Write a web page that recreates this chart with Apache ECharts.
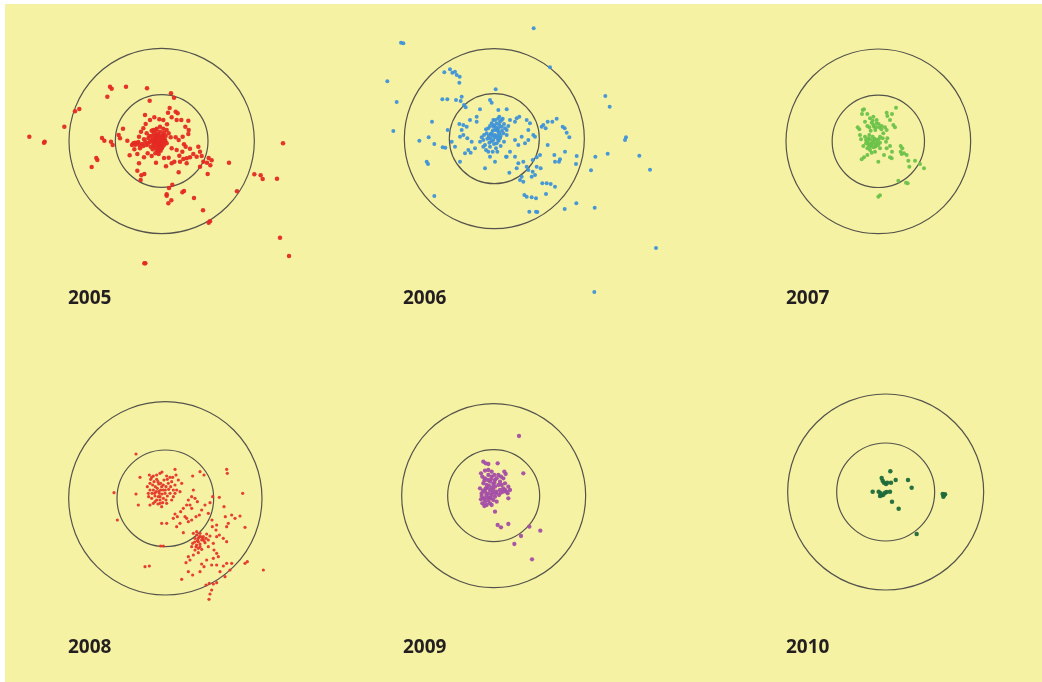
<!DOCTYPE html>
<html>
<head>
<meta charset="utf-8">
<script src="https://cdn.jsdelivr.net/npm/echarts@6/dist/echarts.min.js"></script>
<style>
  html, body { margin: 0; padding: 0; background: #fff; }
  #chart { width: 1042px; height: 682px; }
</style>
</head>
<body>
<div id="chart"></div>
<script>
// shot positions on each target sheet, in sheet units (x to the right, y downwards)
var years = ['2005', '2006', '2007', '2008', '2009', '2010'];

var shots2005 = [
  [28,320],[72,338],[74,335],[133,290],[165,244],[178,237],[215,411],[229,384],[232,390],[246,324],
  [253,332],[262,200],[270,170],[275,176],[318,170],[381,175],[389,212],[453,190],[462,203],[273,335],
  [278,345],[296,315],[300,325],[309,296],[789,340],[771,446],[703,433],[722,436],[728,447],[627,398],
  [651,484],[549,541],[566,578],[570,574],[522,504],[487,487],[492,483],[440,497],[445,520],[440,493],
  [454,511],[457,464],[447,474],[364,436],[362,450],[373,432],[352,422],[780,623],[807,678],[376,700],
  [373,700],[563,432],[540,410],[571,406],[575,391],[566,384],[561,398],[476,427],[408,398],
  [444,248],[449,234],[467,245],[473,250],[455,262],[470,270],[484,270],[505,272],[496,290],[506,300],
  [505,312],[488,320],[467,322],[476,330],[492,343],[497,350],[510,356],[478,377],[490,387],[500,385],
  [510,382],[480,395],[463,395],[446,383],[432,384],[455,400],[438,409],[427,352],[395,378],[383,370],
  [372,382],[357,400],[352,372],[329,376],[343,358],[336,345],[322,332],[340,340],[345,338],[357,320],
  [363,305],[370,295],[377,282],[375,255],[390,270],[403,262],[418,268],[430,270],[441,283],[420,290],
  [408,300],[395,302],[380,310],[385,325],[380,345],[360,355],[370,348],[535,350],[540,365],[545,378],
  [530,380],[520,372],[550,395],[500,400],[487,365],[470,360],[455,355],
  [410,320],[415,315],[420,325],[425,330],[405,335],[412,345],[418,350],[430,320],[428,340],[400,345],
  [398,328],[435,330],[420,305],[410,360],[422,362],[440,340],[390,335],[402,310],[432,308],[425,355],
  [415,335],[408,328],[422,340],[413,352],[428,315],[403,352],[395,318],[437,318],[350,340],[358,345],
  [405,318],[412,312],[418,318],[424,322],[430,326],[436,334],[426,345],[418,342],[410,338],[402,340],
  [396,332],[406,326],[414,326],[420,332],[427,336],[432,345],[420,356],[414,365],[406,370],[416,372],
  [398,358],[392,350],[384,340],[376,336],[366,342],[355,336],[346,344],[372,328],[440,300],[446,310],
  [452,322],[388,318],[400,300],[410,296],[430,296]
];

var shots2006 = [
  [461,25],[63,68],[70,70],[22,184],[50,246],[40,333],[193,157],[210,148],[217,158],[225,155],
  [230,165],[239,170],[238,188],[510,142],[347,208],[676,228],[689,260],[738,352],[735,360],[778,407],
  [810,449],[683,401],[646,410],[633,451],[644,563],[589,550],[554,567],[828,684],[643,816],[163,528],
  [118,362],[146,352],[163,372],[156,305],[140,425],[144,432],[188,382],[196,383],[203,330],[187,238],
  [202,238],[228,240],[245,230],[242,243],[252,255],[257,262],[448,575],[468,575],[472,576],[433,525],
  [440,530],[455,532],[468,535],[498,522],[500,490],[512,492],[525,500],[487,490],[590,408],[588,432],
  [555,395],[523,405],[525,425],[537,425],[540,418],[568,352],[560,338],[554,325],[548,320],[530,296],
  [517,305],[503,305],[490,315],[485,320],[497,325],[503,375],[480,405],[470,412],[458,420],[470,440],
  [482,445],[458,455],[455,470],[465,465],[425,470],[420,480],[430,485],[440,440],[445,450],[430,425],
  [405,410],[415,430],[410,445],[388,458],[315,445],[345,425],[378,410],[240,425],[255,400],[265,390],
  [272,398],[285,385],[225,380],[215,365],[240,350],[250,345],[262,355],[275,365],[260,320],[250,315],
  [245,330],[238,312],[270,300],[290,290],[300,268],[290,305],[330,240],[335,248],[355,270],[380,268],
  [405,305],[410,295],[418,290],[440,300],[450,310],[445,330],[460,345],[465,350],[445,360],[435,370],
  [425,350],[415,375],[405,360],[390,395],[380,410],[330,410],[325,395],[310,380],
  [340,320],[350,310],[360,305],[365,320],[355,335],[345,345],[335,340],[330,355],[340,360],[350,370],
  [360,355],[370,340],[375,325],[320,340],[325,325],[355,325],[345,300],[365,300],[310,360],[380,345],
  [330,380],[315,375],[348,385],[362,378],[372,365],[345,330],[352,348],[338,332],[358,315],[328,368],
  [335,310],[342,316],[348,322],[352,330],[358,340],[362,348],[354,358],[346,352],[338,348],[332,342],
  [326,348],[322,356],[334,364],[342,372],[356,362],[366,332],[372,312],[368,296],[354,296],[340,300],
  [330,318],[318,328],[312,345],[305,352],[300,365],[318,390],[338,395],[352,395],[380,330],[385,318],
  [390,300],[358,290]
];

var shots2007 = [
  [248,210],[252,208],[246,222],[262,222],[270,235],[320,218],[322,228],[336,222],[348,203],[330,240],
  [340,255],[345,262],[233,262],[238,268],[255,245],[262,258],[275,248],[280,255],[290,250],[298,262],
  [305,258],[315,262],[320,270],[272,272],[286,270],[240,285],[258,300],[268,310],[278,305],[290,300],
  [270,320],[262,325],[250,318],[285,320],[295,315],[300,325],[285,335],[275,338],[252,352],[245,358],
  [262,345],[295,365],[312,345],[320,325],[330,318],[336,335],[335,355],[330,352],[362,318],[367,325],
  [362,335],[372,340],[380,345],[365,342],[385,362],[405,362],[420,372],[432,385],[388,380],[355,422],
  [378,428],[383,430],[295,470],[300,466],[243,298],[300,290],[308,295],[318,305],[322,295],[280,230],
  [290,240],[255,290],[265,295],[278,290],[268,285],[275,312],[282,300],[288,312],
  [262,302],[270,298],[280,308],[288,318],[292,308],[284,296],[274,316],[266,316],[258,310],[280,322],
  [270,330],[300,308],[296,298],[282,260],[288,262],[296,252],[304,268],[278,242],[268,262],[310,280]
];

var shots2008 = [
  [228,192],[162,308],[172,390],[228,312],[235,345],[240,262],[268,255],[275,262],[300,250],[306,246],
  [320,258],[330,262],[345,238],[348,255],[355,270],[345,285],[365,280],[350,300],[360,305],[340,320],
  [335,330],[320,340],[300,340],[285,335],[270,345],[275,325],[265,310],[262,290],[270,280],[282,275],
  [290,268],[296,282],[305,290],[310,300],[298,310],[288,305],[280,300],[295,320],[310,325],[322,318],
  [330,310],[318,290],[325,280],[335,275],[300,330],[285,318],[270,300],[292,295],[302,300],[315,310],
  [272,268],[278,285],[286,290],[294,275],[302,280],[310,285],[316,300],[326,298],[332,290],[340,300],
  [345,310],[300,320],[290,330],[280,340],[294,342],[308,338],[318,330],[276,310],[266,320],[284,310],
  [296,304],[306,312],[312,270],[322,268],[338,262],[290,255],[280,258],
  [305,350],[320,400],[340,385],[345,372],[352,380],[362,365],[370,355],[380,345],[385,330],[395,320],
  [405,325],[412,335],[400,300],[398,258],[420,245],[432,255],[390,345],[395,355],[375,380],[385,395],
  [360,400],[350,410],[370,428],[380,385],[395,390],[408,380],[418,375],[425,360],[435,345],[445,370],
  [450,338],[458,320],[456,390],[470,405],[478,322],[492,350],[496,380],[500,410],[505,400],[515,375],
  [525,385],[540,378],[548,310],[555,412],[500,238],[502,250],[310,468],[302,468],[268,528],[255,530],
  [365,568],[305,400],
  [400,430],[410,425],[420,430],[430,440],[425,450],[415,455],[405,445],[398,460],[410,465],[420,470],
  [435,458],[445,450],[450,438],[440,432],[395,470],[405,480],[415,488],[400,495],[390,510],[378,518],
  [385,500],[425,478],[445,470],[460,460],[462,480],[470,490],[475,500],[460,505],[440,510],[425,522],
  [432,530],[420,545],[398,555],[385,545],[455,525],[470,525],[490,528],[500,520],[510,540],[515,520],
  [555,520],[562,515],[610,540],[470,578],[460,582],[455,600],[450,612],[447,628],[448,580],[438,585],
  [480,545],[495,560],[457,410],[468,420],[478,435],[490,445],[500,455],[470,440],[415,445],[422,440],
  [410,435],[418,440],[428,446],[412,452],[404,456],[420,462],[432,452],[438,445],[415,475],[408,470]
];

var shots2009 = [
  [265,155],[272,160],[280,162],[308,160],[328,185],[332,192],[385,190],[372,78],[258,190],[262,200],
  [270,205],[280,195],[290,200],[300,210],[295,222],[285,215],[275,225],[265,220],[255,235],[260,250],
  [265,265],[270,275],[275,285],[285,280],[295,270],[300,260],[290,255],[280,250],[270,245],[285,240],
  [295,240],[305,245],[300,230],[315,215],[320,225],[325,235],[330,220],[340,230],[345,240],[335,245],
  [325,245],[315,240],[318,200],[325,205],[310,195],[290,185],[280,180],[270,182],[340,265],[262,280],
  [268,288],[300,305],[308,345],[318,352],[340,342],[403,350],[436,362],[378,378],[358,402],[411,448],
  [278,262],[288,265],[275,235],[258,268],[305,275],
  [268,212],[278,210],[288,208],[298,218],[292,232],[282,228],[272,235],[264,242],[274,255],[284,262],
  [292,248],[302,250],[312,255],[318,248],[330,240],[338,250],[310,225],[305,205],[270,265],[280,272],
  [290,285],[260,258],[298,195]
];

var shots2010 = [
  [331,244],[305,264],[308,272],[312,278],[318,282],[322,278],[333,278],[347,270],[384,270],[395,293],
  [278,305],[296,305],[302,310],[306,316],[310,314],[315,308],[300,318],[320,306],[330,305],[336,335],
  [356,356],[488,312],[492,316],[490,320],[495,313],[410,432]
];

var shots = [shots2005, shots2006, shots2007, shots2008, shots2009, shots2010];

// ring centres and outer ring radius on each sheet (inner ring is half of it)
var ringCenters = [[425, 333], [343, 356], [295, 304], [316, 325], [296, 257], [317, 306]];
var ringRadius = [278, 270, 277, 290, 276, 294];

// where each sheet sits on the page (px) and its size; 3 sheet units per px
var panels = [
  { left: 20, top: 30, w: 280, h: 240 },
  { left: 380, top: 20, w: 290, h: 280 },
  { left: 780, top: 40, w: 200, h: 200 },
  { left: 60, top: 390, w: 220, h: 220 },
  { left: 395, top: 410, w: 160, h: 180 },
  { left: 780, top: 390, w: 210, h: 210 }
];
var unit = 3;
var colors = ['#e42a23', '#3d92d8', '#6cc24a', '#e4362b', '#a34da6', '#1d6a3a'];
var dotSize = [4.5, 4, 4, 3.2, 4.3, 4.5];
var labelPos = [[68, 298.5], [403, 298.5], [786, 298.5], [68, 647.5], [403, 647.5], [786, 647.5]];

var chart = echarts.init(document.getElementById('chart'));

var grids = [], xAxes = [], yAxes = [], polars = [], radiusAxes = [], angleAxes = [], series = [];
var graphics = [{
  type: 'rect', left: 5, top: 4, z: -100, silent: true,
  shape: { width: 1037, height: 678 },
  style: { fill: '#f6f2a4' }
}];

panels.forEach(function(p, i) {
  grids.push({ left: p.left, top: p.top, width: p.w, height: p.h, show: false });
  xAxes.push({ gridIndex: i, type: 'value', min: 0, max: p.w * unit, show: false });
  yAxes.push({ gridIndex: i, type: 'value', min: 0, max: p.h * unit, inverse: true, show: false });

  var c = ringCenters[i];
  polars.push({
    center: [p.left + c[0] / unit, p.top + c[1] / unit],
    radius: ringRadius[i] / unit
  });
  radiusAxes.push({
    polarIndex: i, type: 'value', min: 0, max: ringRadius[i], interval: ringRadius[i] / 2,
    axisLine: { show: false }, axisTick: { show: false }, axisLabel: { show: false },
    splitLine: { show: true, lineStyle: { color: '#55534b', width: 1.2 } }
  });
  angleAxes.push({
    polarIndex: i, type: 'value', min: 0, max: 360,
    axisLine: { show: false }, axisTick: { show: false }, axisLabel: { show: false },
    splitLine: { show: false }
  });

  series.push({
    type: 'scatter',
    name: years[i],
    xAxisIndex: i,
    yAxisIndex: i,
    data: shots[i],
    symbolSize: dotSize[i],
    clip: false,
    itemStyle: { color: colors[i], opacity: 0.95 },
    z: 5
  });

  graphics.push({
    type: 'text', x: labelPos[i][0], y: labelPos[i][1], z: 10,
    style: {
      text: years[i],
      font: 'bold 19px "Open Sans"',
      fill: '#231f20',
      verticalAlign: 'middle'
    }
  });
});

chart.setOption({
  animation: false,
  backgroundColor: 'transparent',
  grid: grids,
  xAxis: xAxes,
  yAxis: yAxes,
  polar: polars,
  radiusAxis: radiusAxes,
  angleAxis: angleAxes,
  series: series,
  graphic: graphics
});
window.addEventListener('resize', function() { chart.resize(); });
</script>
</body>
</html>
